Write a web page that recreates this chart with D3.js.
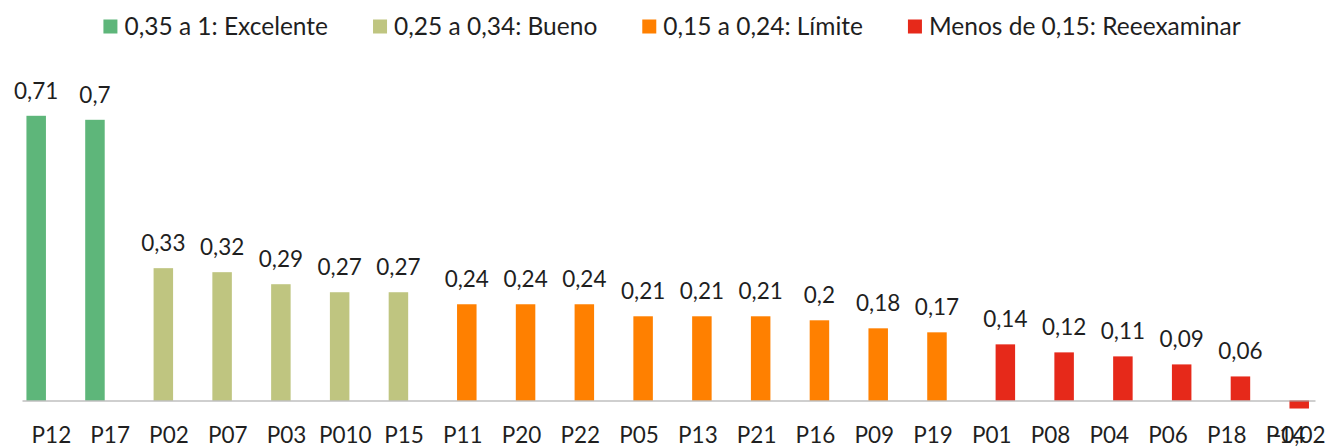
<!DOCTYPE html>
<html>
<head>
<meta charset="utf-8">
<script src="https://cdn.jsdelivr.net/npm/d3@7"></script>
<style>
  html, body { margin: 0; padding: 0; background: #fff; }
  svg { display: block; }
  text { font-family: Lato, "Noto Sans", sans-serif; fill: #1f1f1f; }
</style>
</head>
<body>
<svg id="chart" width="1326" height="448"></svg>
<script>
// ---- Data ----
const categories = ["P12","P17","P02","P07","P03","P010","P15","P11","P20","P22","P05","P13","P21","P16","P09","P19","P01","P08","P04","P06","P18","P14"];
const values = [0.71,0.7,0.33,0.32,0.29,0.27,0.27,0.24,0.24,0.24,0.21,0.21,0.21,0.2,0.18,0.17,0.14,0.12,0.11,0.09,0.06,-0.02];
const seriesNames = ["0,35 a 1: Excelente","0,25 a 0,34: Bueno","0,15 a 0,24: Límite","Menos de 0,15: Reeexaminar"];
const seriesOf = [0,0,1,1,1,1,1,2,2,2,2,2,2,2,2,2,3,3,3,3,3,3];
const seriesColors = ["#5eb67a","#bfc580","#ff8000","#e6291a"];

// ---- Layout ----
const svg = d3.select("#chart");
const fontSize = 22.5;
const legendFont = 24.5;
const fmt = v => String(v).replace(".", ",");

const x = d3.scaleBand().domain(categories).range([22, 1315]).padding(0);
const xs = d3.scaleBand().domain(d3.range(seriesNames.length)).range([-20, 18.4]).padding(0);
const y = d3.scaleLinear().domain([0, 1]).range([400.5, -0.5]);
const barW = 19.5;

const data = categories.map((c, i) => ({c, v: values[i], s: seriesOf[i]}));
const cx = d => x(d.c) + x.bandwidth() / 2 + xs(d.s) + xs.bandwidth() / 2;

// Bars
svg.append("g").selectAll("rect").data(data).join("rect")
  .attr("x", d => cx(d) - barW / 2)
  .attr("y", d => y(Math.max(0, d.v)))
  .attr("width", barW)
  .attr("height", d => Math.abs(y(d.v) - y(0)))
  .attr("fill", d => seriesColors[d.s]);

// Axis
const axis = svg.append("g").attr("transform", `translate(0,${y(0)})`)
  .call(d3.axisBottom(x).tickSize(0).tickSizeOuter(0));
axis.select(".domain").attr("stroke", "#a0a0a0").attr("stroke-width", 1.2);
axis.selectAll(".tick text")
  .attr("y", 42.5).attr("dy", 0)
  .style("font-family", "Lato, 'Noto Sans', sans-serif")
  .style("font-size", fontSize + "px")
  .attr("fill", "#1f1f1f");

// Value labels
svg.append("g").selectAll("text").data(data).join("text")
  .attr("x", d => cx(d))
  .attr("y", d => d.v >= 0 ? y(d.v) - 17 : y(d.v) + 34)
  .attr("text-anchor", "middle")
  .style("font-size", fontSize + "px")
  .text(d => fmt(d.v));

// Legend
const lg = svg.append("g");
const items = lg.selectAll("g").data(seriesNames).join("g");
items.append("rect").attr("width", 14).attr("height", 14).attr("y", 19.5)
  .attr("fill", (d, i) => seriesColors[i]);
items.append("text").attr("x", 21).attr("y", 35)
  .style("font-size", legendFont + "px").text(d => d);
let pos = 0;
const offs = [];
items.each(function(d, i) {
  offs.push(pos);
  const w = d3.select(this).select("text").node().getComputedTextLength();
  pos += 21 + w + 45;
});
const total = pos - 45;
const start = 672 - total / 2;
items.attr("transform", (d, i) => `translate(${start + offs[i]},0)`);
</script>
</body>
</html>
